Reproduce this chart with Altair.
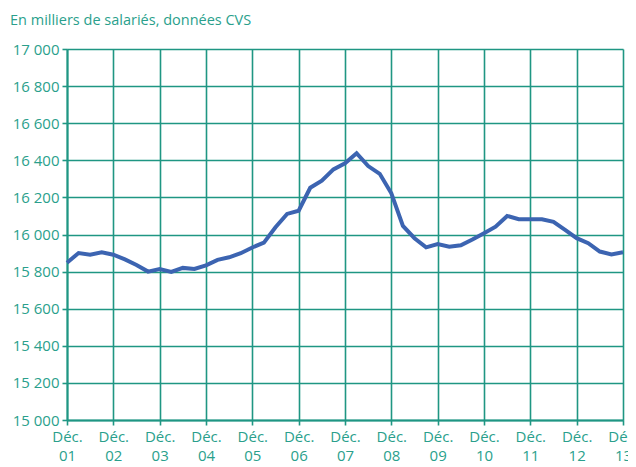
import altair as alt
import pandas as pd

year_labels = ["01", "02", "03", "04", "05", "06", "07", "08", "09", "10", "11", "12", "13"]
# quarterly values, Dec 2001 .. Dec 2013 (thousands of employees)
values = [
    15848, 15900, 15891, 15904,
    15891, 15866, 15836, 15800,
    15814, 15798, 15820, 15814,
    15834, 15863, 15877, 15899,
    15930, 15956, 16039, 16111,
    16128, 16252, 16290, 16351,
    16384, 16438, 16369, 16327,
    16222, 16046, 15980, 15931,
    15949, 15934, 15942, 15973,
    16007, 16042, 16100, 16082,
    16082, 16082, 16068, 16025,
    15980, 15953, 15908, 15893,
    15904,
]
y_ticks = list(range(15000, 17001, 200))

df = pd.DataFrame({"q": list(range(len(values))), "v": values})

teal = "#1f9683"
text_teal = "#2a9f8c"
label_arr = "[" + ",".join("'" + s + "'" for s in year_labels) + "]"

chart = alt.Chart(df).mark_line(color="#3c64b1", strokeWidth=4, strokeJoin="miter").encode(
    x=alt.X("q:Q",
            scale=alt.Scale(domain=[0, 48], nice=False, zero=False),
            axis=alt.Axis(values=list(range(0, 49, 4)), title=None,
                          labelExpr="['Déc.', " + label_arr + "[round(datum.value/4)]]",
                          labelColor=text_teal, labelFont="Open Sans", labelFontSize=15,
                          labelLineHeight=19, labelPadding=4, labelOverlap=False,
                          labelFlush=False,
                          grid=True, gridColor=teal, gridWidth=1.6, gridOpacity=1,
                          domainColor=teal, domainWidth=2, tickColor=teal, tickSize=5,
                          tickWidth=1.6)),
    y=alt.Y("v:Q",
            scale=alt.Scale(domain=[15000, 17000], nice=False, zero=False),
            axis=alt.Axis(values=y_ticks, title=None,
                          labelExpr="replace(format(datum.value, ','), ',', ' ')",
                          labelColor=text_teal, labelFont="Open Sans", labelFontSize=15,
                          labelPadding=3,
                          grid=True, gridColor=teal, gridWidth=1.6, gridOpacity=1,
                          domainColor=teal, domainWidth=2, tickColor=teal, tickSize=5,
                          tickWidth=1.6)),
).properties(
    width=556, height=371,
    autosize=alt.AutoSizeParams(type="none"),
    padding={"left": 59, "top": 41, "right": 5, "bottom": 47},
    title=alt.TitleParams("En milliers de salariés, données CVS", anchor="start",
                          frame="group", orient="top", color=text_teal,
                          font="Open Sans", fontSize=14.5, fontWeight="normal",
                          dx=-57, offset=14),
).configure_view(stroke=None)

chart.save("out.html", embed_options={"renderer": "svg", "actions": False})
